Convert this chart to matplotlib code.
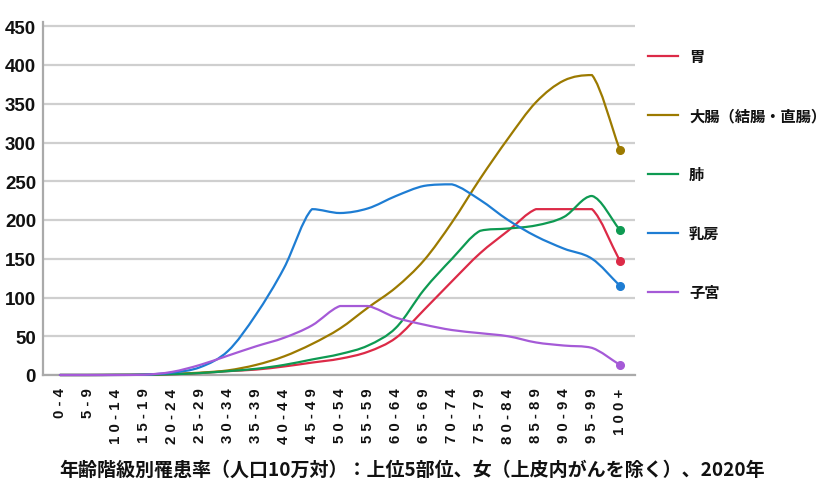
import numpy as np
import matplotlib
matplotlib.use('Agg')
import matplotlib.pyplot as plt
from matplotlib.path import Path
from matplotlib.patches import PathPatch
from matplotlib.lines import Line2D

# age groups and incidence per 100k (female, 2020)
ages = ['0-4', '5-9', '10-14', '15-19', '20-24', '25-29', '30-34', '35-39',
        '40-44', '45-49', '50-54', '55-59', '60-64', '65-69', '70-74',
        '75-79', '80-84', '85-89', '90-94', '95-99', '100+']
stomach = [0, 0, 0.1, 0.3, 1, 2.5, 5, 7, 11, 16, 21, 30, 48, 84, 121, 157, 186, 214, 214, 214, 147]
colon = [0, 0, 0.2, 0.5, 1.5, 3, 6, 13, 24, 40, 60, 87, 113, 148, 197, 253, 305, 352, 380, 387, 290]
lung = [0, 0, 0.1, 0.3, 1, 2.5, 5, 8, 13, 20, 27, 38, 61, 110, 150, 186, 189, 193, 204, 231, 187]
breast = [0, 0, 0.1, 0.4, 3, 10, 31, 78, 138, 214, 209, 215, 231, 244, 246, 226, 200, 179, 163, 150, 115]
uterus = [0, 0, 0, 0.3, 4, 13, 25, 37, 48, 64, 89, 89, 74, 65, 58, 54, 50, 42, 38, 35, 13]

names = ['胃', '大腸（結腸・直腸）', '肺', '乳房', '子宮']
colors = ['#DC2A47', '#9C7A00', '#0E9A52', '#1E7DD3', '#A55AD7']
title = '年齢階級別罹患率（人口10万対）：上位5部位、女（上皮内がんを除く）、2020年'

CJK = ['Noto Sans CJK JP', 'DejaVu Sans']


def smooth_path(xs, ys):
    # cubic bezier through the points, control points kept inside each segment's range
    ys = np.asarray(ys, dtype=float)
    n = len(ys)
    m = np.zeros(n)
    m[1:-1] = (ys[2:] - ys[:-2]) / 2
    m[0] = ys[1] - ys[0]
    m[-1] = ys[-1] - ys[-2]
    verts = [(xs[0], ys[0])]
    codes = [Path.MOVETO]
    for i in range(n - 1):
        lo, hi = min(ys[i], ys[i + 1]), max(ys[i], ys[i + 1])
        c1 = np.clip(ys[i] + m[i] / 3, lo, hi)
        c2 = np.clip(ys[i + 1] - m[i + 1] / 3, lo, hi)
        verts += [(xs[i] + 1 / 3, c1), (xs[i + 1] - 1 / 3, c2), (xs[i + 1], ys[i + 1])]
        codes += [Path.CURVE4] * 3
    return Path(verts, codes)


W, H = 825, 485
fig = plt.figure(figsize=(W / 100, H / 100), dpi=100)
ytop = 455
ax = fig.add_axes([43 / W, 1 - 376 / H, (635 - 43) / W, ytop * 0.775 / H])
ax.set_xlim(-17 / 28, 20 + 15 / 28)
ax.set_ylim(0, ytop)

x = np.arange(len(ages))
for vals, c in zip([stomach, colon, lung, breast, uterus], colors):
    patch = PathPatch(smooth_path(x, vals), facecolor='none', edgecolor=c,
                      lw=1.6, zorder=3, clip_on=False, capstyle='round', joinstyle='round')
    ax.add_patch(patch)
    ax.plot(x[-1], vals[-1], 'o', ms=5.5, color=c, zorder=4, clip_on=False)

# axes styling
ax.set_yticks(range(0, 451, 50))
ax.grid(axis='y', color='#cfcfcf', lw=1.6)
ax.set_axisbelow(True)
for s in ['top', 'right']:
    ax.spines[s].set_visible(False)
for s in ['left', 'bottom']:
    ax.spines[s].set_color('#aaaaaa')
    ax.spines[s].set_linewidth(1.6)
ax.tick_params(axis='both', length=0)
ax.tick_params(axis='y', pad=5)
ax.tick_params(axis='x', pad=9)
for lab in ax.get_yticklabels():
    lab.set_fontfamily('Liberation Sans')
    lab.set_fontweight('bold')
    lab.set_fontsize(13.5)
    lab.set_color('#111111')

# the original labels are widely letter-spaced
ax.set_xticks(x)
ax.set_xticklabels([' '.join(a) for a in ages], rotation=90, fontsize=10.8,
                   fontweight='bold', family='Liberation Sans', color='#111111')

# legend on the right
for i, (name, c) in enumerate(zip(names, colors)):
    yy = 1 - (57 + 59 * i) / H
    fig.add_artist(Line2D([648 / W, 678 / W], [yy, yy], color=c, lw=1.6,
                          transform=fig.transFigure))
    fig.text(689 / W, yy, name, ha='left', va='center', fontsize=11,
             fontweight='bold', family=CJK, color='#111111')

fig.text(0.5, 1 - 470 / H, title, ha='center', va='center', fontsize=13.7,
         fontweight='bold', family=CJK, color='#111111')

fig.savefig('out.png', dpi=100)
